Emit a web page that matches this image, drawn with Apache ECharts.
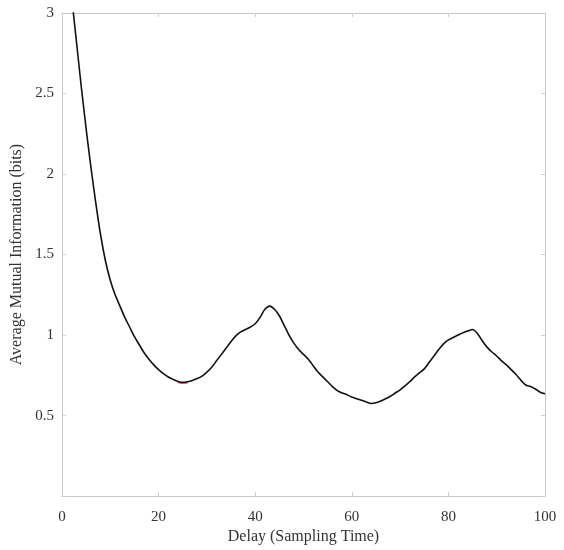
<!DOCTYPE html>
<html>
<head>
<meta charset="utf-8">
<script src="https://cdn.jsdelivr.net/npm/echarts@6/dist/echarts.min.js"></script>
<style>
  html, body { margin: 0; padding: 0; background: #fff; }
  #main { width: 564px; height: 550px; }
</style>
</head>
<body>
<div id="main"></div>
<script>
var delays = [];
for (let i = 1; i <= 100; ++i) {
  delays.push(i);
}

var ami = [
  3.40, 3.10, 2.82, 2.54, 2.28, 2.04, 1.82, 1.62, 1.46, 1.34,
  1.25, 1.18, 1.11, 1.05, 0.99, 0.94, 0.89, 0.85, 0.815, 0.785,
  0.76, 0.74, 0.725, 0.712, 0.706, 0.71, 0.718, 0.73, 0.745, 0.77,
  0.80, 0.84, 0.88, 0.92, 0.96, 0.995, 1.02, 1.035, 1.05, 1.07,
  1.11, 1.16, 1.18, 1.16, 1.12, 1.06, 1.00, 0.95, 0.91, 0.88,
  0.85, 0.81, 0.77, 0.74, 0.71, 0.68, 0.655, 0.64, 0.63, 0.615,
  0.605, 0.595, 0.585, 0.575, 0.58, 0.59, 0.605, 0.62, 0.64, 0.66,
  0.685, 0.71, 0.74, 0.765, 0.79, 0.83, 0.87, 0.91, 0.945, 0.97,
  0.985, 1.00, 1.015, 1.025, 1.035, 1.01, 0.965, 0.925, 0.895, 0.87,
  0.84, 0.815, 0.785, 0.755, 0.72, 0.69, 0.68, 0.665, 0.645, 0.635
];

// first minimum, marked in red
var minDelays = [24, 25, 26];
var minValues = [0.712, 0.706, 0.71];

var yTicks = [0.5, 1, 1.5, 2, 2.5, 3];

var chart = echarts.init(document.getElementById('main'), null, { renderer: 'canvas' });

var font = 'Liberation Serif';
var frame = { show: true, onZero: false, lineStyle: { color: '#c8c8c8', width: 1 } };
var ticks = { show: true, inside: true, length: 4, lineStyle: { color: '#d0d0d0' } };

var option = {
  animation: false,
  grid: { left: 62, right: 19, top: 13, bottom: 53 },
  xAxis: [
    {
      type: 'value',
      min: 0,
      max: 100,
      interval: 20,
      name: 'Delay (Sampling Time)',
      nameLocation: 'middle',
      nameGap: 26,
      nameTextStyle: { fontFamily: font, fontSize: 16, color: '#333' },
      axisLine: frame,
      axisTick: ticks,
      splitLine: { show: false },
      axisLabel: { fontFamily: font, fontSize: 15, color: '#333', margin: 13 }
    },
    {
      type: 'value',
      position: 'top',
      min: 0,
      max: 100,
      interval: 20,
      axisLine: frame,
      axisTick: ticks,
      splitLine: { show: false },
      axisLabel: { show: false }
    }
  ],
  yAxis: [
    {
      type: 'value',
      min: 0,
      max: 3,
      interval: 0.5,
      name: 'Average Mutual Information (bits)',
      nameLocation: 'middle',
      nameGap: 29,
      nameTextStyle: { fontFamily: font, fontSize: 16, color: '#333' },
      axisLine: frame,
      axisTick: ticks,
      splitLine: { show: false },
      axisLabel: {
        fontFamily: font, fontSize: 15, color: '#333', margin: 8,
        formatter: function (v) { return yTicks.indexOf(v) >= 0 ? String(v) : ''; }
      }
    },
    {
      type: 'value',
      position: 'right',
      min: 0,
      max: 3,
      interval: 0.5,
      axisLine: frame,
      axisTick: ticks,
      splitLine: { show: false },
      axisLabel: { show: false }
    }
  ],
  series: [
    {
      type: 'line',
      data: minDelays.map(function (d, i) { return [d, minValues[i] - 0.004]; }),
      showSymbol: false,
      smooth: true,
      lineStyle: { color: '#e06080', width: 2 },
      z: 1
    },
    {
      type: 'line',
      data: delays.map(function (d, i) { return [d, ami[i]]; }),
      showSymbol: false,
      smooth: 0.3,
      clip: true,
      lineStyle: { color: '#111', width: 1.6 },
      z: 2
    }
  ]
};

chart.setOption(option);
window.addEventListener('resize', chart.resize);
</script>
</body>
</html>
